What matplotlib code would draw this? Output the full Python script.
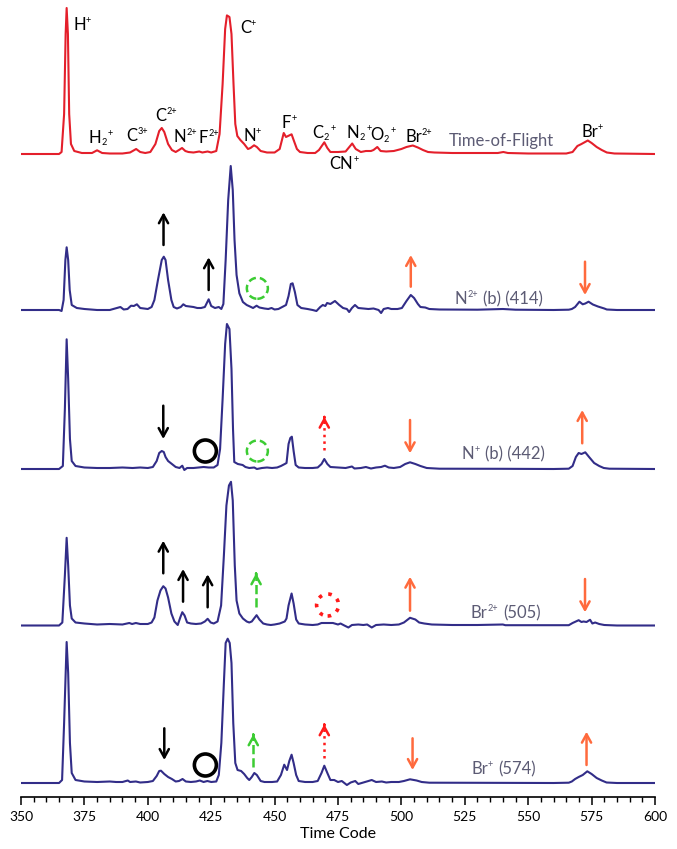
import matplotlib
matplotlib.use("Agg")
import matplotlib.pyplot as plt
from matplotlib.patches import Ellipse

plt.rcParams['font.family'] = ['Lato', 'DejaVu Sans']

# spectra: (time code, intensity above baseline)
tof_x = [350, 365, 366, 367, 367.6, 368, 368.5, 369, 369.7, 371, 374, 378, 380, 382, 385, 390, 393, 395.4, 397, 399,
         401, 403, 404.5, 405.5, 406.5, 408, 409.5, 411, 412.3, 413.5, 414.8, 416, 418, 420.3, 421.5, 423.6, 425, 427,
         428.3, 429.5, 430.5, 431.2, 432.2, 433, 433.8, 434.5, 435.3, 436.5, 438, 439.5, 440.5, 441.9, 443, 444.5, 447,
         450, 452, 453, 453.6, 454.5, 455.3, 456.7, 457.5, 458.8, 460, 463, 466, 467.5, 469.6, 470.8, 472, 475, 478,
         480.6, 482, 484, 486, 488, 489, 490.5, 491.8, 494, 497, 500, 502, 504.5, 506.5, 508.5, 510.5, 513, 520, 530,
         538, 540.2, 542, 550, 560, 565, 567.5, 569.4, 571, 573.5, 575, 577, 579, 581, 584, 600]
tof_y = [0, 0, 2, 40, 120, 146, 120, 40, 10, 3, 1, 1, 3.7, 1, 0.5, 0.5, 1.5, 5, 2, 1,
         2, 10, 23, 26, 22, 10, 4, 2, 4, 6, 3, 2, 1.5, 2.5, 1.5, 2.5, 1.5, 3,
         20, 70, 125, 138.6, 137, 120, 70, 30, 18, 14, 10, 5, 6, 8.7, 7, 3, 1.5,
         1.5, 5, 15, 21, 17, 18, 19.7, 14, 5, 2, 1, 1, 4, 11.7, 6, 2, 2, 2.5,
         10.5, 5, 2, 3, 3, 4, 7, 3, 2.5, 3, 5, 7, 8.5, 6.5, 4, 2, 1.5, 1, 1,
         1, 2, 1, 0.5, 0.5, 0.5, 2, 8, 10, 13.5, 11, 7, 4, 1.5, 0.5, 0]

n2_x = [350, 365, 366, 366.8, 367.5, 368, 368.6, 369.2, 370, 372, 375, 380, 385, 389.2, 390.5, 392, 393.4, 394.5,
        395.7, 397, 400, 401.5, 402.6, 404, 405.5, 406.3, 407, 408, 409.3, 410.2, 411.5, 413, 414, 415, 416.5, 418,
        419.5, 421, 422.5, 424, 425, 426.5, 428, 429, 429.8, 430.7, 431.7, 432.7, 433.5, 434.2, 435, 436.1, 437.5,
        439, 440.7, 441.5, 442.9, 444, 446, 447.5, 448.8, 450, 451.5, 453, 454.5, 455.5, 456.4, 457.1, 458, 459,
        460.5, 463, 465, 466.5, 468, 469, 470, 470.7, 472, 473.8, 475.5, 477, 478.5, 479.4, 480.5, 481.7, 483, 485,
        487, 489, 491, 492, 493, 494.7, 496, 498.5, 500.2, 502, 503.7, 505, 506.5, 507.5, 509.4, 511, 515, 530, 540,
        545, 560, 566, 567.2, 568.5, 570.2, 571.5, 572.5, 573.8, 575.5, 577.5, 580, 581, 585, 600]
n2_y = [0, 0, -1, 10, 50, 62.7, 50, 20, 5, 2, 1, 0, 0, 3, 0.5, 1, 4.3, 4,
        5.7, 2, 1, 3, 10, 30, 50, 53.3, 50, 30, 10, 3, 1.5, 3, 5.7, 4, 3.5, 3,
        2, 2, 3, 10.7, 4, 2, 3, 1, 6, 50, 110, 144, 120, 70, 35, 16.7, 8,
        5, 3, 2, 4.3, 2.5, 1.5, 1, 2, 0.5, 1, 3, 5, 14, 26, 26.7, 18, 5,
        2, 1, 0, -1, 3, 5, 4, 7, 6, 9, 5, 2, 1, -2, 2, 5, 2, 1.5,
        1, 1.5, 0, -3, 1, 2, 1, 1, 2, 9, 15, 12, 6, 3, 2.5, 1, 0.5, 0.3, 1,
        0.3, 0, 0.3, 1, 3, 8.3, 5.7, 6.5, 8.3, 5.5, 3.5, 1.5, 0.5, 0, 0]

n1_x = [350, 365, 366.5, 367.3, 368, 368.6, 369.3, 370, 371.5, 375, 380, 385, 390, 394, 397, 400, 402, 403.5, 404.5,
        405.5, 406.3, 407, 408, 409.5, 411, 412.5, 413.6, 414.4, 415.5, 418, 420, 422, 424, 426, 427.5, 428.5, 429.5,
        430.5, 431.2, 432.2, 433, 433.6, 434.1, 435.5, 437.4, 438.5, 440, 442, 443, 445, 447, 449, 451, 452.5, 454,
        454.7, 455.5, 456.2, 456.8, 457.5, 458.3, 459.5, 462, 465, 467, 468.5, 469.6, 470.8, 472, 475, 478, 480.5,
        481.5, 484, 486, 488, 490, 492, 493.5, 495, 497, 499.5, 501.5, 503.4, 505.5, 507.5, 510, 515, 540, 560, 566,
        567.5, 568.8, 569.9, 571, 572.5, 574, 576, 578, 579.8, 582, 600]
n1_y = [0, 0, 3, 60, 129.7, 90, 30, 8, 3, 1.5, 1, 1, 1.5, 1, 1.5, 1, 2, 8, 16,
        18, 17, 12, 8, 5, 2, 1, 3.3, -1, 1, 1, 1.5, 2, 1.5, 1.5, 4, 20, 70,
        125, 145, 140, 100, 40, 7, 5, 4, 2, 1, 1.5, 0, 1, 1.5, 1, 1.5, 3, 5,
        6, 25, 31, 32.3, 18, 4, 1.5, 1, 1, 1.5, 5, 10, 5, 2, 1.5, 1, 2.5,
        0.5, 1, 2, 0.5, 1.5, 2, 3.3, 1.5, 1, 2, 5, 6.7, 5, 3, 1, 0.3, 0.2, 0, 0.3,
        3, 12, 16, 15, 16.7, 12, 6, 3, 1, 0.3, 0]

br2_x = [350, 365, 366.3, 367.3, 368, 368.6, 369.3, 370, 371.5, 375, 380, 385, 390, 392.7, 393.8, 395.3, 397, 400,
         401.5, 402.6, 403.8, 405, 406.1, 407, 408, 409.3, 410.5, 411.8, 412.8, 413.6, 414.5, 415.5, 417, 419, 421,
         422.5, 423.6, 424.8, 426, 427.5, 428.9, 430, 431, 432, 432.8, 433.5, 434.3, 435, 436.1, 437.5, 439, 440,
         441, 442.9, 444, 445.5, 447, 448.5, 450, 452, 454, 454.7, 455.5, 456.7, 457.5, 458.5, 459.5, 462, 465, 467,
         468.5, 471, 473, 475, 476, 477.5, 479.1, 480.5, 483, 485, 486.5, 488.3, 490, 493, 496, 499, 501, 503.4,
         505.5, 507, 509, 512, 520, 530, 540, 541, 560, 566, 567.5, 569.9, 571, 571.8, 573, 574.4, 575.3, 576.4, 578,
         580, 585, 600]
br2_y = [0, 0, 3, 50, 87.7, 60, 20, 7, 3, 2, 1, 1.5, 1, 2.5, 1.5, 2.5, 1.5, 1.5,
         3, 8, 25, 35, 39.3, 37, 28, 12, 4, 0.5, 8, 13.3, 10, 3, 2, 1.5, 2,
         4, 6.7, 3, 2, 4, 20, 70, 120, 140, 143.7, 125, 60, 25, 12, 7, 4, 3,
         4, 10.3, 6, 2, 1, 0.5, 1, 2, 4, 7, 20, 32, 22, 6, 2, 1, 0.5, 1,
         2.5, 2.5, 2.5, 1, 2, 0, -2, 0.5, 1, 0.5, 1, -2, 0.5, 1, 0.5, 1, 3, 7.7,
         6, 3, 2, 1, 0.5, 0.5, 1, 0.3, 0.3, 0.3, 2.5, 5.3, 3.5, 4, 3.5, 5.7, 2, 3, 1.5,
         0.5, 0, 0]

br1_x = [350, 365, 366.2, 367, 368, 368.6, 369.3, 370, 371.5, 375, 380, 385, 387.5, 390, 392.1, 393, 395.3, 397, 400,
         402, 403.5, 404.5, 405.2, 406.5, 408, 409.5, 411, 412.3, 413.7, 415, 417, 419, 420.5, 422, 423.5, 425, 427,
         428, 429, 430, 430.7, 431.5, 432.3, 433, 433.7, 434.5, 435.4, 436.8, 438, 439.2, 440, 441, 442, 443, 444.5,
         446, 449, 451, 452.5, 453.8, 454.9, 455.8, 456.7, 457.5, 458.5, 459.5, 462, 465, 467, 468.5, 469.6, 470.8,
         472, 473.5, 475, 476.5, 478.5, 480, 481.8, 483, 485, 487, 488.3, 490, 492.3, 494, 496, 499, 501, 503.4, 506,
         508, 511, 530, 560, 566, 567.2, 568.5, 569.9, 571.5, 573.3, 575, 577, 579, 580.9, 585, 600]
br1_y = [0, 0, 3, 60, 141, 110, 40, 10, 3, 1.5, 1, 1.5, 1, 1, 2.5, 1, 1.5, 0.5, 1,
         2, 7, 12, 12.3, 9, 6, 4, 1.5, 2, 4, 1.5, 1, 1.5, 2.5, 1, 2, 1, 1.5,
         8, 40, 100, 140, 144.3, 140, 120, 60, 20, 13, 12, 9, 5, 3, 6, 10, 8, 2,
         1, 1, 1.5, 8, 18.3, 13, 22, 28.3, 20, 8, 2, 1, 1, 2, 10, 17.3, 10,
         3, 3, 1, 2, -2, 0.5, 2, -1, 0.5, 2, 3, 1, 1.5, 0.5, 1, 1, 2, 3.7, 2.5,
         1, 0.3, 0.2, 0, 0.3, 1.5, 4, 6, 8, 11.7, 9, 5, 2.5, 0.5, 0, 0]

# vertical offset of each trace
offsets = {'tof': 643, 'n2': 487, 'n1': 328, 'br2': 171.5, 'br1': 14}

red = '#e41f2b'
blue = '#322d88'
orange = '#ff6a3d'
green = '#3ccc33'
grey = '#5c5b74'

fig = plt.figure(figsize=(6.77, 8.49), dpi=100)
ax = fig.add_axes([21 / 677, 52 / 849, 634 / 677, 792 / 849])

ax.plot(tof_x, [v + offsets['tof'] for v in tof_y], color=red, lw=1.5)
ax.plot(n2_x, [v + offsets['n2'] for v in n2_y], color=blue, lw=1.5)
ax.plot(n1_x, [v + offsets['n1'] for v in n1_y], color=blue, lw=1.5)
ax.plot(br2_x, [v + offsets['br2'] for v in br2_y], color=blue, lw=1.5)
ax.plot(br1_x, [v + offsets['br1'] for v in br1_y], color=blue, lw=1.5)

ax.set_xlim(350, 600)
ax.set_ylim(0, 792)

renderer = fig.canvas.get_renderer()


def chem(x, y, parts, color='black', size=12):
    # parts: (text, kind) with kind '' normal, '^' superscript, '_' subscript;
    # drawn side by side and centred on (x, y)
    small = size * 0.55
    rise = {'': 0, '^': size * 0.62, '_': -size * 0.2}
    items = []
    prev = ''
    for txt, kind in parts:
        t = ax.annotate(txt, xy=(x, y), xytext=(0, 0), textcoords='offset pixels',
                        fontsize=size if kind == '' else small, color=color, ha='left', va='baseline')
        if prev == '^' and kind == '':
            gap = 5
        elif prev != '' and kind != prev:
            gap = 1.5
        else:
            gap = 0
        items.append((t, kind, gap, t.get_window_extent(renderer).width))
        prev = kind
    total = sum(g + w for _, _, g, w in items)
    pos = -total / 2
    for t, kind, gap, w in items:
        pos += gap
        t.set_position((pos, rise[kind] - size * 0.5))
        pos += w


# peak labels on the time-of-flight trace
peak_labels = [([('H', ''), ('+', '^')], 374.1, 773),
               ([('H', ''), ('2', '_'), ('+', '^')], 381.5, 660),
               ([('C', ''), ('3+', '^')], 395.9, 662),
               ([('C', ''), ('2+', '^')], 407.2, 682),
               ([('N', ''), ('2+', '^')], 414.7, 661),
               ([('F', ''), ('2+', '^')], 424.1, 660),
               ([('C', ''), ('+', '^')], 439.5, 770),
               ([('N', ''), ('+', '^')], 441.1, 662),
               ([('F', ''), ('+', '^')], 455.7, 675),
               ([('C', ''), ('2', '_'), ('+', '^')], 469.5, 665),
               ([('CN', ''), ('+', '^')], 477.4, 634),
               ([('N', ''), ('2', '_'), ('+', '^')], 483.3, 665),
               ([('O', ''), ('2', '_'), ('+', '^')], 492.7, 663),
               ([('Br', ''), ('2+', '^')], 506.9, 661),
               ([('Br', ''), ('+', '^')], 575.2, 666)]
for parts, x, y in peak_labels:
    chem(x, y, parts)

trace_labels = [([('Time-of-Flight', '')], 539.5, 657),
                ([('N', ''), ('2+', '^'), ('(b) (414)', '')], 538.5, 499),
                ([('N', ''), ('+', '^'), ('(b) (442)', '')], 540.2, 344),
                ([('Br', ''), ('2+', '^'), ('(505)', '')], 541.2, 185),
                ([('Br', ''), ('+', '^'), ('(574)', '')], 540.2, 29)]
for parts, x, y in trace_labels:
    chem(x, y, parts, color=grey)


def arrow(x, y0, y1, color, ls='-'):
    style = '->,head_length=0.6,head_width=0.33'
    if ls == '-':
        ax.annotate('', xy=(x, y1), xytext=(x, y0),
                    arrowprops=dict(arrowstyle=style, color=color, lw=1.8, shrinkA=0, shrinkB=0))
    else:
        ax.plot([x, x], [y0, y1], color=color, lw=1.8, ls=ls)
        step = 0.5 if y1 > y0 else -0.5
        ax.annotate('', xy=(x, y1), xytext=(x, y1 - step),
                    arrowprops=dict(arrowstyle=style, color=color, lw=1.8, shrinkA=0, shrinkB=0))


def ring(x, y, color, ls='-', lw=2.2, r=10.5):
    # 1 time unit spans about 2.536 px, 1 y unit spans 1 px
    ax.add_patch(Ellipse((x, y), 2 * r / 2.536, 2 * r, fill=False, edgecolor=color, ls=ls, lw=lw))


# N2+ (b) (414)
arrow(406.2, 552, 584.7, 'black')
arrow(424, 507, 539.7, 'black')
ring(443.2, 508.7, green, ls=(0, (3, 1.6)), lw=1.8)
arrow(503.7, 510.3, 542, orange)
arrow(572.4, 535.3, 502, orange)

# N+ (b) (442)
arrow(406.1, 391.3, 358, 'black')
ring(422.7, 346, 'black', lw=2.6, r=11)
ring(443.2, 346, green, ls=(0, (3, 1.6)), lw=1.8)
arrow(469.6, 347, 380.3, '#ff1a1a', ls=':')
arrow(503.4, 377, 343.7, orange)
arrow(571.3, 353.7, 387, orange)

# Br2+ (505)
arrow(406.1, 223.7, 256.3, 'black')
arrow(413.9, 195.3, 228, 'black')
arrow(423.6, 189.7, 222.7, 'black')
arrow(442.7, 190.3, 223.7, green, ls='--')
ring(470.9, 192, '#ff1a1a', ls=(0, (1, 1.8)), lw=2.6, r=11)
arrow(503.4, 186.3, 220.3, orange)
arrow(572.4, 218, 184.7, orange)

# Br+ (574)
arrow(406.5, 68.7, 37, 'black')
ring(422.7, 32, 'black', lw=2.6, r=11)
arrow(441.6, 30.3, 62.7, green, ls='--')
arrow(469.6, 39.3, 72.7, '#ff1a1a', ls=':')
arrow(504.4, 58.7, 27, orange)
arrow(573, 32, 65.3, orange)

for side in ['left', 'right', 'top']:
    ax.spines[side].set_visible(False)
ax.spines['bottom'].set_linewidth(1.2)
ax.set_yticks([])
ax.set_xticks(range(350, 601, 25))
ax.set_xticks(range(350, 601, 5), minor=True)
ax.tick_params(axis='x', which='major', direction='out', length=6, width=1.1, labelsize=10, pad=4)
ax.tick_params(axis='x', which='minor', direction='out', length=3.5, width=1.0)
ax.set_xlabel('Time Code', fontsize=11.5, labelpad=3)

fig.savefig('out.png', dpi=100)
